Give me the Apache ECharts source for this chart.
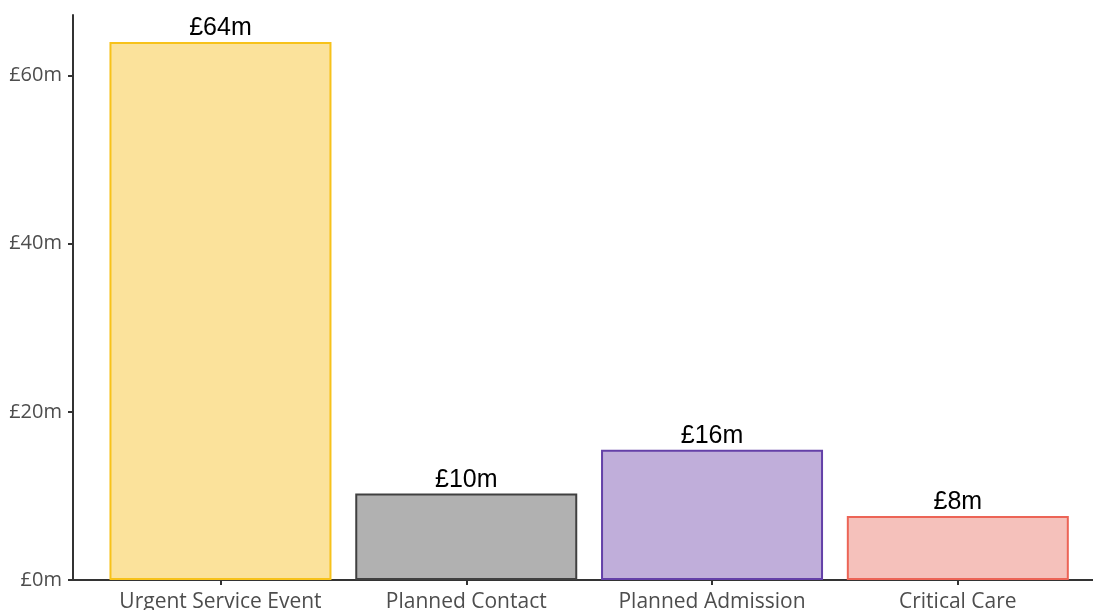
<!DOCTYPE html>
<html>
<head>
<meta charset="utf-8">
<style>
  html, body { margin: 0; padding: 0; background: #ffffff; }
  #chart { width: 1093px; height: 610px; }
</style>
<script src="https://cdn.jsdelivr.net/npm/echarts@6/dist/echarts.min.js"></script>
</head>
<body>
<div id="chart"></div>
<script>
// Cost by activity type (£ millions)
const categories = ['Urgent Service Event', 'Planned Contact', 'Planned Admission', 'Critical Care'];
const costMillions = [64.0, 10.3, 15.5, 7.6];
const yTicks = [0, 20, 40, 60];

// Fill and outline colour for each category
const fills = ['#FBE29B', '#B1B1B1', '#C0AEDA', '#F5C1BB'];
const strokes = ['#F7C21A', '#404040', '#6440A8', '#EC6456'];

const positions = categories.map((_, i) => i + 1);

const chart = echarts.init(document.getElementById('chart'), null, { renderer: 'canvas' });

chart.setOption({
  animation: false,
  backgroundColor: '#ffffff',
  grid: {
    left: 73, right: 0, top: 15, bottom: 30,
    containLabel: false,
    outerBoundsMode: 'none'
  },
  xAxis: {
    type: 'value',
    min: 0.4,
    max: 4.55,
    splitLine: { show: false },
    axisLine: { show: true, lineStyle: { color: '#333333', width: 2 } },
    axisTick: {
      show: true, length: 5,
      customValues: positions,
      lineStyle: { color: '#333333', width: 2 }
    },
    axisLabel: {
      customValues: positions,
      margin: 12,
      color: '#4d4d4d',
      fontFamily: 'Open Sans',
      fontSize: 21,
      formatter: v => categories[Math.round(v) - 1] || ''
    }
  },
  yAxis: {
    type: 'value',
    min: 0,
    max: 67.2,
    splitLine: { show: false },
    axisLine: { show: true, lineStyle: { color: '#333333', width: 2 } },
    axisTick: {
      show: true, length: 5,
      customValues: yTicks,
      lineStyle: { color: '#333333', width: 2 }
    },
    axisLabel: {
      customValues: yTicks,
      margin: 11,
      color: '#4d4d4d',
      fontFamily: 'Open Sans',
      fontSize: 20,
      formatter: v => '£' + v + 'm'
    }
  },
  series: [{
    type: 'bar',
    barWidth: 222,
    data: costMillions.map((v, i) => ({
      value: [positions[i], v],
      itemStyle: { color: fills[i], borderColor: strokes[i], borderWidth: 2 }
    })),
    label: {
      show: true,
      position: 'top',
      distance: 1,
      color: '#000000',
      fontFamily: 'Liberation Sans',
      fontSize: 25,
      formatter: p => '£' + Math.round(p.value[1]) + 'm'
    }
  }]
});
</script>
</body>
</html>
